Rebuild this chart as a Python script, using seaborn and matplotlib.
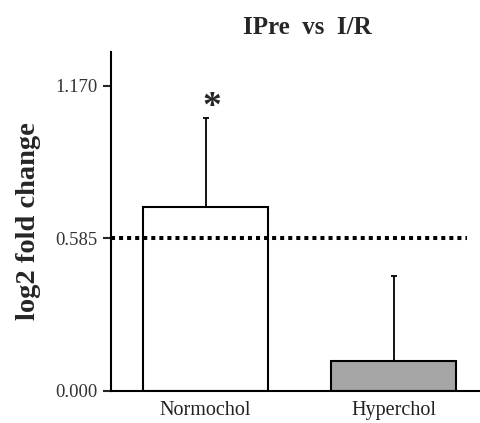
import numpy as np
import pandas as pd
import seaborn as sns
import matplotlib.pyplot as plt

# data
groups = ['Normochol', 'Hyperchol']
means = [0.706, 0.115]
err_up = [0.342, 0.327]
bar_colors = ['white', '#a6a6a6']
threshold = 0.585
yticks = [0.0, 0.585, 1.170]
ytick_labels = ['0.000', '0.585', '1.170']

df = pd.DataFrame({'group': groups, 'fc': means})

sns.set_style('white')
plt.rcParams['font.family'] = ['Liberation Serif', 'DejaVu Serif']

fig = plt.figure(figsize=(4.81, 4.23), dpi=100)
ax = fig.add_axes([0.231, 0.076, 0.769, 0.801])

sns.barplot(data=df, x='group', y='fc', hue='group', palette=bar_colors,
            errorbar=None, width=0.668, edgecolor='black', linewidth=1.5,
            legend=False, ax=ax)

# upper error bars only
ax.errorbar(np.arange(len(groups)), means, yerr=[np.zeros(len(groups)), err_up],
            fmt='none', ecolor='black', elinewidth=1.3, capsize=2.5, capthick=1.3,
            zorder=3)

# threshold line
ax.plot([-0.503, 1.39], [threshold, threshold], color='black', lw=2.9,
        linestyle=(0, (1, 1)), zorder=4)

# significance marker
ax.text(0.035, 1.05, '*', ha='center', va='baseline',
        fontsize=27, fontweight='bold')

ax.set_xlim(-0.503, 1.465)
ax.set_ylim(0, 1.30)
ax.set_yticks(yticks)
ax.set_yticklabels(ytick_labels, fontsize=13.5, color='#333333')
ax.tick_params(axis='x', length=0, labelsize=14.5, labelcolor='#222222', pad=7)
ax.tick_params(axis='y', left=True, length=6, width=1.5, direction='out', pad=4)
ax.set_xlabel('')
ax.set_ylabel('log2 fold change', fontsize=20.5, fontweight='bold', labelpad=10)

for s in ['top', 'right']:
    ax.spines[s].set_visible(False)
for s in ['left', 'bottom']:
    ax.spines[s].set_color('black')
    ax.spines[s].set_linewidth(1.5)

fig.text(0.638, 0.935, 'IPre  vs  I/R', ha='center', va='center',
         fontsize=18, fontweight='bold')

fig.savefig('out.png', dpi=100)
